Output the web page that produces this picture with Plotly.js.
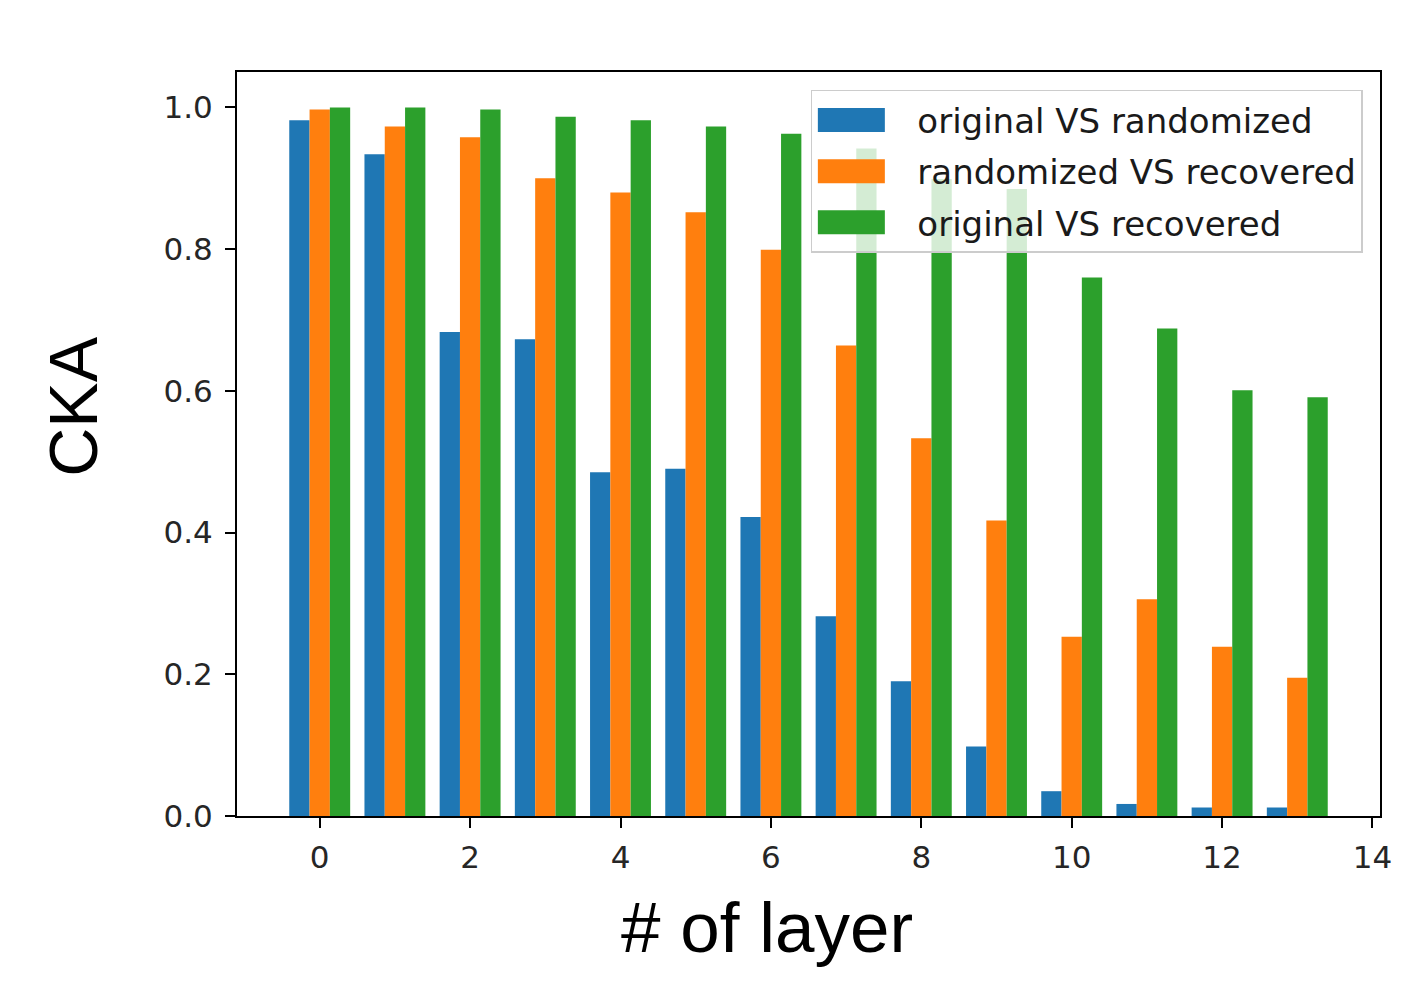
<!DOCTYPE html>
<html>
<head>
<meta charset="utf-8">
<script src="https://cdn.plot.ly/plotly-3.0.1.min.js"></script>
<style>
html,body{margin:0;padding:0;background:#ffffff;}
#chart{width:1411px;height:1000px;}
</style>
</head>
<body>
<div id="chart"></div>
<script>
// ---- data ----
const layers = [0,1,2,3,4,5,6,7,8,9,10,11,12,13];
const seriesNames = ["original VS randomized","randomized VS recovered","original VS recovered"];
const origVsRandomized = [0.982,0.934,0.683,0.673,0.485,0.490,0.422,0.282,0.190,0.098,0.035,0.017,0.012,0.012];
const randomizedVsRecovered = [0.997,0.973,0.958,0.900,0.880,0.852,0.799,0.664,0.533,0.417,0.253,0.306,0.239,0.195];
const origVsRecovered = [1.000,1.000,0.997,0.987,0.982,0.973,0.963,0.942,0.899,0.885,0.760,0.688,0.601,0.591];
const xTickVals = [0,2,4,6,8,10,12,14];
const yTickVals = [0.0,0.2,0.4,0.6,0.8,1.0];
const xTitle = "# of layer";
const yTitle = "CKA";

// ---- styles ----
const colors = ["#1f77b4","#ff7f0e","#2ca02c"];
const seriesValues = [origVsRandomized, randomizedVsRecovered, origVsRecovered];
const tickFont = {family:"DejaVu Sans, sans-serif", size:31, color:"#262626"};
const xTitleFont = {family:"Liberation Sans, Arial, sans-serif", size:71, color:"#000000"};
const yTitleFont = {family:"Liberation Sans, Arial, sans-serif", size:68, color:"#000000"};

const traces = seriesValues.map((vals,i)=>({
  type:"bar",
  x: layers,
  y: vals,
  name: seriesNames[i],
  legendgroup: "g"+i,
  marker:{color:colors[i], line:{width:0}},
  hoverinfo:"x+y+name"
}));

const axisCommon = {
  showline:true, linecolor:"#000000", linewidth:2, mirror:true,
  ticks:"outside", ticklen:10, tickwidth:2, tickcolor:"#000000",
  showgrid:false, zeroline:false, tickfont:tickFont
};

const layout = {
  width:1411, height:1000,
  margin:{l:237, r:31, t:72, b:184},
  paper_bgcolor:"#ffffff", plot_bgcolor:"#ffffff",
  barmode:"group", bargap:0.19, bargroupgap:0,
  showlegend:true,
  legend:{
    x:0.985, xanchor:"right", y:0.976, yanchor:"top",
    bgcolor:"rgba(255,255,255,0.8)", bordercolor:"#cccccc", borderwidth:1.5,
    font:{family:"DejaVu Sans, sans-serif", size:34, color:"#1a1a1a"},
    tracegroupgap:4, itemwidth:95
  },
  xaxis: Object.assign({}, axisCommon, {
    range:[-1.1,14.1], tickmode:"array", tickvals:xTickVals,
    ticktext:xTickVals.map(String), ticklabelstandoff:3
  }),
  yaxis: Object.assign({}, axisCommon, {
    range:[0,1.05], tickmode:"array", tickvals:yTickVals,
    ticktext:yTickVals.map(v=>v.toFixed(1)), ticklabelstandoff:6
  }),
  annotations:[
    {text:xTitle, xref:"paper", yref:"paper", x:0.4637, y:-0.15,
     xanchor:"center", yanchor:"middle", showarrow:false, font:xTitleFont},
    {text:yTitle, xref:"paper", yref:"paper", x:-0.1435, y:0.550,
     xanchor:"center", yanchor:"middle", textangle:-90, showarrow:false, font:yTitleFont}
  ]
};

Plotly.newPlot("chart", traces, layout, {displayModeBar:false, staticPlot:true}).then(gd=>{
  // widen legend handles to look like matplotlib patch handles
  gd.querySelectorAll(".legend .legendpoints path").forEach(p=>{
    p.setAttribute("d","M-47,-12H20V12H-47Z");
  });
});
</script>
</body>
</html>
